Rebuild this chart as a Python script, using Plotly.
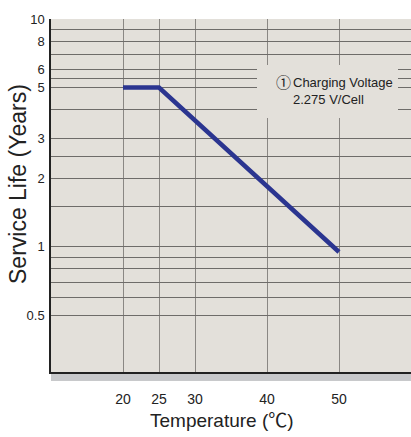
import plotly.graph_objects as go

# Data
temperature = [20, 25, 50]
service_life = [5, 5, 0.95]

x_ticks = [20, 25, 30, 40, 50]
x_ticktext = ["20", "25", "30", "40", "50"]

y_grid = [0.5, 0.6, 0.7, 0.8, 0.9, 1, 1.5, 2, 2.5, 3, 4, 5, 5.5, 6, 7, 8, 9, 10]
y_labels = {0.5: "0.5", 1: "1", 2: "2", 3: "3", 5: "5", 6: "6", 8: "8", 10: "10"}
y_ticktext = [y_labels.get(v, "") for v in y_grid]

W, H = 411, 437
L, R, T, B = 51, 0, 19, 65
PW, PH = W - L - R, H - T - B

def px(x):
    return (x - L) / PW

def py(y):
    return (H - B - y) / PH

sans = "Liberation Sans, Arial, sans-serif"
cjk = "Liberation Sans, Arial, Noto Sans CJK JP, sans-serif"
bg = "#e3e0da"

fig = go.Figure()
fig.add_trace(go.Scatter(
    x=temperature, y=service_life, mode="lines",
    line=dict(color="#2b3590", width=4.5),
    hoverinfo="skip", showlegend=False,
))

fig.update_layout(
    width=W, height=H,
    margin=dict(l=L, r=R, t=T, b=B),
    paper_bgcolor="white",
    plot_bgcolor=bg,
    xaxis=dict(
        range=[10, 60], tickvals=x_ticks, ticktext=x_ticktext,
        showgrid=True, gridcolor="#8a8783", gridwidth=1.2,
        zeroline=False, showline=True, linecolor="#222", linewidth=1.5,
        ticks="", ticklabelstandoff=13,
        tickfont=dict(family=sans, size=14, color="#222"),
    ),
    yaxis=dict(
        type="log", range=[-0.549, 1.0],
        tickvals=y_grid, ticktext=y_ticktext,
        showgrid=True, gridcolor="#6e6c69", gridwidth=1,
        zeroline=False, showline=True, linecolor="#222", linewidth=1.5,
        ticks="", ticklabelstandoff=2,
        tickfont=dict(family=sans, size=13, color="#222"),
    ),
    shapes=[
        dict(type="rect", xref="paper", yref="paper",
             x0=0, x1=1, y0=-(381 - (H - B)) / PH, y1=-0.003,
             fillcolor="#c8c9cb", line=dict(width=0), layer="below"),
        dict(type="rect", xref="paper", yref="paper",
             x0=px(257), x1=px(398), y0=py(118), y1=py(65),
             fillcolor=bg, line=dict(width=0), layer="above"),
    ],
    annotations=[
        dict(text="Service Life (Years)", xref="paper", yref="paper",
             x=px(18), y=py(184), textangle=-90, showarrow=False,
             xanchor="center", yanchor="middle",
             font=dict(family=sans, size=23, color="#222")),
        dict(text="Temperature (℃)", xref="paper", yref="paper",
             x=px(222), y=py(421), showarrow=False,
             xanchor="center", yanchor="middle",
             font=dict(family=cjk, size=19, color="#222")),
        dict(text="①", xref="paper", yref="paper",
             x=px(283), y=py(81), showarrow=False,
             xanchor="center", yanchor="middle",
             font=dict(family="Noto Sans CJK JP, sans-serif", size=15, color="#222")),
        dict(text="Charging Voltage<br>2.275 V/Cell", xref="paper", yref="paper",
             x=px(291), y=py(91), showarrow=False, align="left",
             xanchor="left", yanchor="middle",
             font=dict(family=sans, size=13, color="#222")),
    ],
)

fig.write_html(
    "out.html",
    config={"displayModeBar": False},
    post_script="document.body.style.margin='0';document.body.style.overflow='hidden';",
)
